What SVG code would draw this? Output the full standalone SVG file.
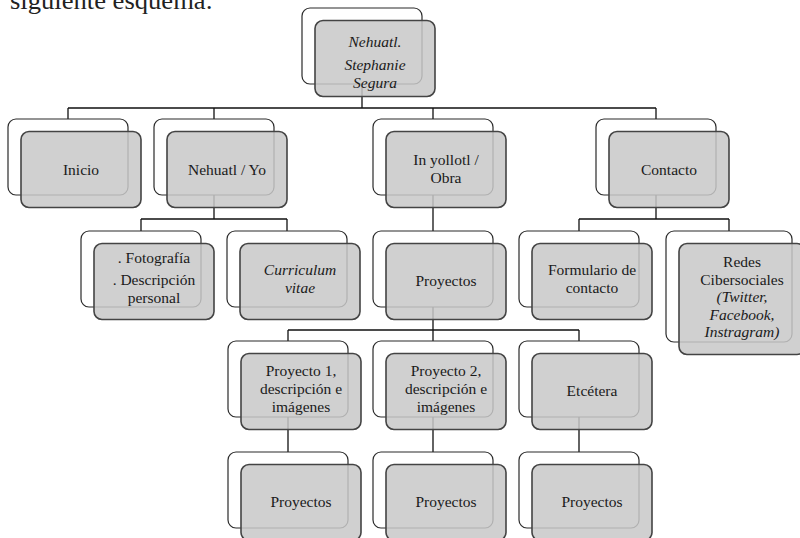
<svg xmlns="http://www.w3.org/2000/svg" width="800" height="538" viewBox="0 0 800 538">
<style>
.bg{fill:#ffffff;stroke:#2a2a2a;stroke-width:1.2}
.fg{fill:#c8c8c8;fill-opacity:0.85;stroke:#444444;stroke-width:1.6}
.c{fill:none;stroke:#111111;stroke-width:1.3}
.t{font-family:"Liberation Serif",serif;font-size:15.5px;fill:#1a1a1a;text-anchor:middle}
.i{font-style:italic}
.head{font-family:"Liberation Serif",serif;font-size:26px;fill:#222222}
</style>
<defs>
<g id="box">
<rect class="bg" x="0" y="0" width="120" height="76" rx="8"/>
<rect class="fg" x="13" y="12.5" width="120" height="76" rx="8"/>
</g>
</defs>
<text class="head" x="10" y="9" textLength="203" lengthAdjust="spacingAndGlyphs">siguiente esquema:</text>
<g id="connectors">
<path class="c" d="M362 84V108M68 108H656M68 108V119M214 108V119M433 108V119M656 108V119"/>
<path class="c" d="M214 195V219M141 219H287M141 219V231M287 219V231"/>
<path class="c" d="M433 195V231"/>
<path class="c" d="M656 195V219M579 219H729M579 219V231M729 219V231"/>
<path class="c" d="M433 307V330M288 330H579M288 330V341M433 330V341M579 330V341"/>
<path class="c" d="M288 417V452M433 417V452M579 417V452"/>
</g>
<g id="n-top" transform="translate(302,8)"><use href="#box"/>
<text class="t i" x="73" y="39">Nehuatl.</text>
<text class="t i" x="73" y="62">Stephanie</text>
<text class="t i" x="73" y="80">Segura</text></g>
<g id="n-inicio" transform="translate(8,119)"><use href="#box"/>
<text class="t" x="73" y="56">Inicio</text></g>
<g id="n-nehuatl" transform="translate(154,119)"><use href="#box"/>
<text class="t" x="73" y="56">Nehuatl / Yo</text></g>
<g id="n-obra" transform="translate(373,119)"><use href="#box"/>
<text class="t" x="73" y="46">In yollotl /</text>
<text class="t" x="73" y="64">Obra</text></g>
<g id="n-contacto" transform="translate(596,119)"><use href="#box"/>
<text class="t" x="73" y="56">Contacto</text></g>
<g id="n-foto" transform="translate(81,231)"><use href="#box"/>
<text class="t" x="73" y="32">. Fotografía</text>
<text class="t" x="73" y="54">. Descripción</text>
<text class="t" x="73" y="72">personal</text></g>
<g id="n-cv" transform="translate(227,231)"><use href="#box"/>
<text class="t i" x="73" y="44">Curriculum</text>
<text class="t i" x="73" y="62">vitae</text></g>
<g id="n-proyectos" transform="translate(373,231)"><use href="#box"/>
<text class="t" x="73" y="55">Proyectos</text></g>
<g id="n-form" transform="translate(519,231)"><use href="#box"/>
<text class="t" x="73" y="44">Formulario de</text>
<text class="t" x="73" y="62">contacto</text></g>
<g id="n-redes" transform="translate(666,231)">
<rect class="bg" x="0" y="0" width="126" height="111" rx="8"/>
<rect class="fg" x="13" y="12.5" width="126" height="111" rx="8"/>
<text class="t" x="76" y="36">Redes</text>
<text class="t" x="76" y="53.5">Cibersociales</text>
<text class="t i" x="76" y="71">(Twitter,</text>
<text class="t i" x="76" y="88.5">Facebook,</text>
<text class="t i" x="76" y="106">Instragram)</text></g>
<g id="n-p1" transform="translate(228,341)"><use href="#box"/>
<text class="t" x="73" y="35">Proyecto 1,</text>
<text class="t" x="73" y="53">descripción e</text>
<text class="t" x="73" y="71">imágenes</text></g>
<g id="n-p2" transform="translate(373,341)"><use href="#box"/>
<text class="t" x="73" y="35">Proyecto 2,</text>
<text class="t" x="73" y="53">descripción e</text>
<text class="t" x="73" y="71">imágenes</text></g>
<g id="n-etc" transform="translate(519,341)"><use href="#box"/>
<text class="t" x="73" y="55">Etcétera</text></g>
<g id="n-p1-proy" transform="translate(228,452)"><use href="#box"/>
<text class="t" x="73" y="55">Proyectos</text></g>
<g id="n-p2-proy" transform="translate(373,452)"><use href="#box"/>
<text class="t" x="73" y="55">Proyectos</text></g>
<g id="n-etc-proy" transform="translate(519,452)"><use href="#box"/>
<text class="t" x="73" y="55">Proyectos</text></g>
</svg>
